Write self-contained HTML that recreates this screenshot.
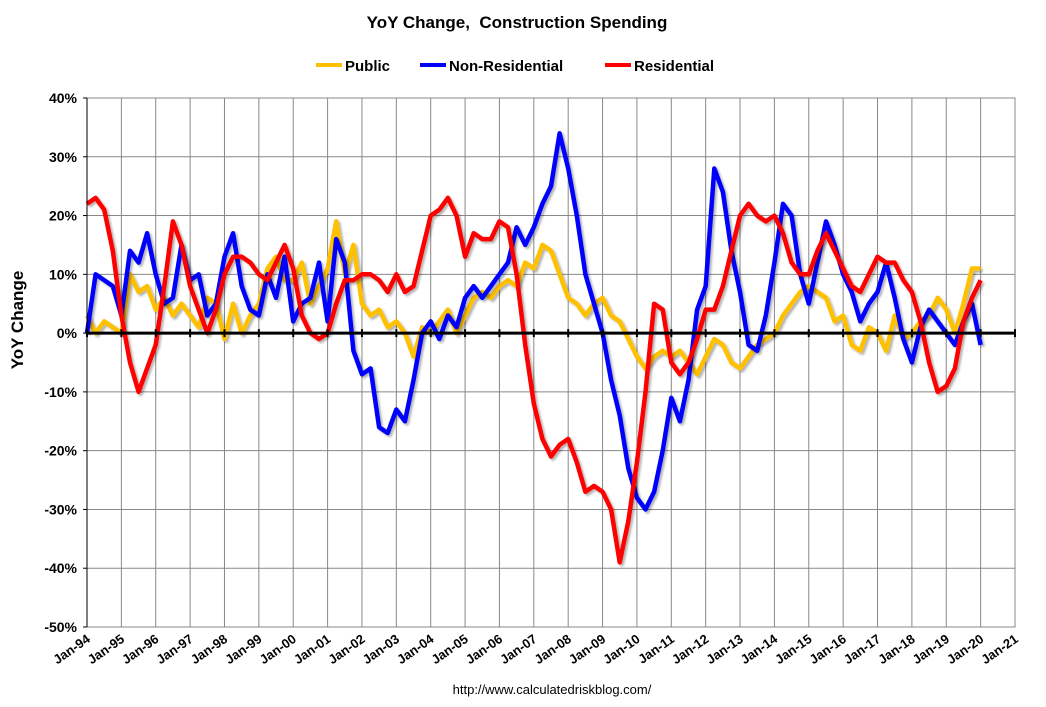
<!DOCTYPE html>
<html><head><meta charset="utf-8"><style>
body{margin:0;background:#fff;width:1046px;height:702px;overflow:hidden;font-family:"Liberation Sans",Arial,sans-serif}
</style></head><body>
<svg id="chart" width="1046" height="702" xmlns="http://www.w3.org/2000/svg" font-family="Liberation Sans, Arial, sans-serif">
<defs><filter id="sh" x="-5%" y="-5%" width="110%" height="110%"><feDropShadow dx="2" dy="2" stdDeviation="1" flood-color="#000" flood-opacity="0.3"/></filter></defs>
<text x="517" y="28" text-anchor="middle" font-size="17" font-weight="bold">YoY Change,&#160; Construction Spending</text>
<g>
<g><line x1="316" y1="65" x2="342" y2="65" stroke="#FFC000" stroke-width="4"/><text x="345" y="71" font-size="15" font-weight="bold">Public</text></g>
<g><line x1="420" y1="65" x2="446" y2="65" stroke="#0000FF" stroke-width="4"/><text x="449" y="71" font-size="15" font-weight="bold">Non-Residential</text></g>
<g><line x1="605" y1="65" x2="631" y2="65" stroke="#FF0000" stroke-width="4"/><text x="634" y="71" font-size="15" font-weight="bold">Residential</text></g>
</g>
<text transform="translate(23,320) rotate(-90)" text-anchor="middle" font-size="17" font-weight="bold">YoY Change</text>
<g id="grid"></g>
<g id="series"></g>
<g id="axes"></g>
<text x="552" y="694" text-anchor="middle" font-size="13">http://www.calculatedriskblog.com/</text>
</svg>
<script>
const startYear = 1994;
const yTicks = [40,30,20,10,0,-10,-20,-30,-40,-50];
const xTickLabels = ["Jan-94","Jan-95","Jan-96","Jan-97","Jan-98","Jan-99","Jan-00","Jan-01","Jan-02","Jan-03","Jan-04","Jan-05","Jan-06","Jan-07","Jan-08","Jan-09","Jan-10","Jan-11","Jan-12","Jan-13","Jan-14","Jan-15","Jan-16","Jan-17","Jan-18","Jan-19","Jan-20","Jan-21"];
// quarterly values starting Jan-94
const residential = [22,23,21,14,3,-5,-10,-6,-2,8,19,15,8,4,0,4,10,13,13,12,10,9,12,15,11,3,0,-1,0,5,9,9,10,10,9,7,10,7,8,14,20,21,23,20,13,17,16,16,19,18,10,-2,-12,-18,-21,-19,-18,-22,-27,-26,-27,-30,-39,-32,-22,-10,5,4,-5,-7,-5,-1,4,4,8,14,20,22,20,19,20,17,12,10,10,14,17,14,11,8,7,10,13,12,12,9,7,2,-5,-10,-9,-6,2,6,9];
const nonResidential = [0,10,9,8,3,14,12,17,10,5,6,15,9,10,3,5,13,17,8,4,3,10,6,13,2,5,6,12,2,16,12,-3,-7,-6,-16,-17,-13,-15,-8,0,2,-1,3,1,6,8,6,8,10,12,18,15,18,22,25,34,28,20,10,5,0,-8,-14,-23,-28,-30,-27,-20,-11,-15,-8,4,8,28,24,14,7,-2,-3,3,12,22,20,10,5,12,19,15,10,7,2,5,7,12,6,-1,-5,1,4,2,0,-2,2,5,-2];
const publicSeries = [3,0,2,1,0,10,7,8,4,6,3,5,3,1,6,5,-1,5,0,3,5,11,13,9,9,12,5,8,11,19,10,15,5,3,4,1,2,0,-4,1,0,2,4,0,3,6,7,6,8,9,8,12,11,15,14,10,6,5,3,5,6,3,2,-1,-4,-6,-4,-3,-4,-3,-5,-7,-4,-1,-2,-5,-6,-4,-2,-1,0,3,5,7,8,7,6,2,3,-2,-3,1,0,-3,3,-1,0,2,3,6,4,0,5,11,11];

const L=87,R=1015,T=98,B=627,yMax=40,yMin=-50,years=27;
const xs=y=>L+(y-startYear)/years*(R-L);
const ys=v=>T+(yMax-v)/(yMax-yMin)*(B-T);
const NS="http://www.w3.org/2000/svg";
function mk(tag,attrs,parent){const e=document.createElementNS(NS,tag);for(const k in attrs)e.setAttribute(k,attrs[k]);parent.appendChild(e);return e;}
const grid=document.getElementById('grid'),axes=document.getElementById('axes'),ser=document.getElementById('series');
mk('rect',{x:L,y:T,width:R-L,height:B-T,fill:'#fff',stroke:'#888','stroke-width':1},grid);
yTicks.forEach(v=>{
  const y=ys(v);
  const gl=mk('line',{x1:L,x2:R,y1:y,y2:y,stroke:'#888','stroke-width':1},grid);
  
  
  mk('line',{x1:L-4,x2:L,y1:y,y2:y,stroke:'#000','stroke-width':1},axes);
  const t=mk('text',{x:L-10,y:y+5,'text-anchor':'end','font-size':14,'font-weight':'bold'},axes);
  t.textContent=v+'%';
  
  
});
xTickLabels.forEach((lab,i)=>{
  const x=xs(startYear+i);
  const gl=mk('line',{x1:x,x2:x,y1:T,y2:B,stroke:'#888','stroke-width':1},grid);
  
  
  mk('line',{x1:x,x2:x,y1:ys(0)-4,y2:ys(0)+4,stroke:'#000','stroke-width':2},axes);
  const t=mk('text',{transform:`translate(${x+4},${B+14}) rotate(-35)`,'text-anchor':'end','font-size':13,'font-weight':'bold'},axes);
  t.textContent=lab;
  
  
});
mk('line',{x1:L,x2:L,y1:T,y2:B,stroke:'#000','stroke-width':1},axes);
const z=mk('line',{x1:L,x2:R,y1:ys(0),y2:ys(0),stroke:'#000','stroke-width':3},axes);


function draw(data,color,name){
  const pts=data.map((v,i)=>xs(startYear+i/4).toFixed(1)+','+ys(v).toFixed(1)).join(' ');
  const p=mk('polyline',{points:pts,fill:'none',stroke:color,'stroke-width':4.5,'stroke-linejoin':'round',filter:'url(#sh)'},ser);
  
  
}
draw(publicSeries,'#FFC000','public-line');
draw(nonResidential,'#0000FF','non-residential-line');
draw(residential,'#FF0000','residential-line');
</script>
</body></html>
